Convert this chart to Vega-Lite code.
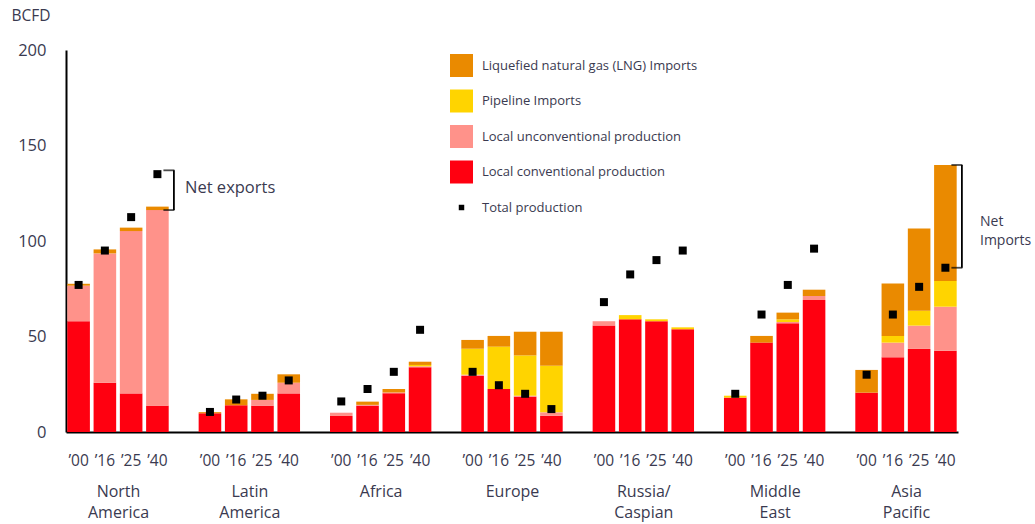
{
  "$schema": "https://vega.github.io/schema/vega-lite/v6.json",
  "autosize": {"type": "none"},
  "width": 892,
  "height": 382,
  "padding": {"left": 66, "top": 50, "right": 77, "bottom": 92},
  "config": {"font": "Open Sans", "view": {"stroke": null}},
  "datasets": {
    "bars": [
      {"region": "North America", "year": "’00", "type": "Local conventional production", "value": 58},
      {"region": "North America", "year": "’00", "type": "Local unconventional production", "value": 18.6},
      {"region": "North America", "year": "’00", "type": "Liquefied natural gas (LNG) Imports", "value": 1},
      {"region": "North America", "year": "’16", "type": "Local conventional production", "value": 25.8},
      {"region": "North America", "year": "’16", "type": "Local unconventional production", "value": 67.7},
      {"region": "North America", "year": "’16", "type": "Liquefied natural gas (LNG) Imports", "value": 2.1},
      {"region": "North America", "year": "’25", "type": "Local conventional production", "value": 20.2},
      {"region": "North America", "year": "’25", "type": "Local unconventional production", "value": 85},
      {"region": "North America", "year": "’25", "type": "Liquefied natural gas (LNG) Imports", "value": 1.8},
      {"region": "North America", "year": "’40", "type": "Local conventional production", "value": 13.8},
      {"region": "North America", "year": "’40", "type": "Local unconventional production", "value": 102.4},
      {"region": "North America", "year": "’40", "type": "Liquefied natural gas (LNG) Imports", "value": 1.8},
      {"region": "Latin America", "year": "’00", "type": "Local conventional production", "value": 9.8},
      {"region": "Latin America", "year": "’00", "type": "Liquefied natural gas (LNG) Imports", "value": 0.6},
      {"region": "Latin America", "year": "’16", "type": "Local conventional production", "value": 14},
      {"region": "Latin America", "year": "’16", "type": "Liquefied natural gas (LNG) Imports", "value": 3.1},
      {"region": "Latin America", "year": "’25", "type": "Local conventional production", "value": 13.8},
      {"region": "Latin America", "year": "’25", "type": "Local unconventional production", "value": 3},
      {"region": "Latin America", "year": "’25", "type": "Liquefied natural gas (LNG) Imports", "value": 3.2},
      {"region": "Latin America", "year": "’40", "type": "Local conventional production", "value": 20.2},
      {"region": "Latin America", "year": "’40", "type": "Local unconventional production", "value": 5.6},
      {"region": "Latin America", "year": "’40", "type": "Liquefied natural gas (LNG) Imports", "value": 4.4},
      {"region": "Africa", "year": "’00", "type": "Local conventional production", "value": 8.4},
      {"region": "Africa", "year": "’00", "type": "Local unconventional production", "value": 1.7},
      {"region": "Africa", "year": "’16", "type": "Local conventional production", "value": 13.8},
      {"region": "Africa", "year": "’16", "type": "Local unconventional production", "value": 0.4},
      {"region": "Africa", "year": "’16", "type": "Liquefied natural gas (LNG) Imports", "value": 1.7},
      {"region": "Africa", "year": "’25", "type": "Local conventional production", "value": 20.3},
      {"region": "Africa", "year": "’25", "type": "Local unconventional production", "value": 0.4},
      {"region": "Africa", "year": "’25", "type": "Liquefied natural gas (LNG) Imports", "value": 1.8},
      {"region": "Africa", "year": "’40", "type": "Local conventional production", "value": 33.9},
      {"region": "Africa", "year": "’40", "type": "Local unconventional production", "value": 0.5},
      {"region": "Africa", "year": "’40", "type": "Pipeline Imports", "value": 0.7},
      {"region": "Africa", "year": "’40", "type": "Liquefied natural gas (LNG) Imports", "value": 1.7},
      {"region": "Europe", "year": "’00", "type": "Local conventional production", "value": 29.5},
      {"region": "Europe", "year": "’00", "type": "Local unconventional production", "value": 0.5},
      {"region": "Europe", "year": "’00", "type": "Pipeline Imports", "value": 13.6},
      {"region": "Europe", "year": "’00", "type": "Liquefied natural gas (LNG) Imports", "value": 4.6},
      {"region": "Europe", "year": "’16", "type": "Local conventional production", "value": 22.5},
      {"region": "Europe", "year": "’16", "type": "Pipeline Imports", "value": 22.2},
      {"region": "Europe", "year": "’16", "type": "Liquefied natural gas (LNG) Imports", "value": 5.6},
      {"region": "Europe", "year": "’25", "type": "Local conventional production", "value": 18.5},
      {"region": "Europe", "year": "’25", "type": "Local unconventional production", "value": 0.5},
      {"region": "Europe", "year": "’25", "type": "Pipeline Imports", "value": 21.1},
      {"region": "Europe", "year": "’25", "type": "Liquefied natural gas (LNG) Imports", "value": 12.4},
      {"region": "Europe", "year": "’40", "type": "Local conventional production", "value": 8.5},
      {"region": "Europe", "year": "’40", "type": "Local unconventional production", "value": 1.8},
      {"region": "Europe", "year": "’40", "type": "Pipeline Imports", "value": 24.4},
      {"region": "Europe", "year": "’40", "type": "Liquefied natural gas (LNG) Imports", "value": 17.8},
      {"region": "Russia/Caspian", "year": "’00", "type": "Local conventional production", "value": 55.8},
      {"region": "Russia/Caspian", "year": "’00", "type": "Local unconventional production", "value": 2.2},
      {"region": "Russia/Caspian", "year": "’16", "type": "Local conventional production", "value": 59},
      {"region": "Russia/Caspian", "year": "’16", "type": "Pipeline Imports", "value": 2.2},
      {"region": "Russia/Caspian", "year": "’25", "type": "Local conventional production", "value": 58},
      {"region": "Russia/Caspian", "year": "’25", "type": "Pipeline Imports", "value": 1},
      {"region": "Russia/Caspian", "year": "’40", "type": "Local conventional production", "value": 53.8},
      {"region": "Russia/Caspian", "year": "’40", "type": "Pipeline Imports", "value": 1},
      {"region": "Middle East", "year": "’00", "type": "Local conventional production", "value": 18},
      {"region": "Middle East", "year": "’00", "type": "Pipeline Imports", "value": 1},
      {"region": "Middle East", "year": "’16", "type": "Local conventional production", "value": 46.8},
      {"region": "Middle East", "year": "’16", "type": "Liquefied natural gas (LNG) Imports", "value": 3.5},
      {"region": "Middle East", "year": "’25", "type": "Local conventional production", "value": 56.9},
      {"region": "Middle East", "year": "’25", "type": "Local unconventional production", "value": 0.7},
      {"region": "Middle East", "year": "’25", "type": "Pipeline Imports", "value": 1.4},
      {"region": "Middle East", "year": "’25", "type": "Liquefied natural gas (LNG) Imports", "value": 3.5},
      {"region": "Middle East", "year": "’40", "type": "Local conventional production", "value": 69.1},
      {"region": "Middle East", "year": "’40", "type": "Local unconventional production", "value": 2.1},
      {"region": "Middle East", "year": "’40", "type": "Liquefied natural gas (LNG) Imports", "value": 3.3},
      {"region": "Asia Pacific", "year": "’00", "type": "Local conventional production", "value": 20.6},
      {"region": "Asia Pacific", "year": "’00", "type": "Liquefied natural gas (LNG) Imports", "value": 11.9},
      {"region": "Asia Pacific", "year": "’16", "type": "Local conventional production", "value": 39.1},
      {"region": "Asia Pacific", "year": "’16", "type": "Local unconventional production", "value": 7.7},
      {"region": "Asia Pacific", "year": "’16", "type": "Pipeline Imports", "value": 3.5},
      {"region": "Asia Pacific", "year": "’16", "type": "Liquefied natural gas (LNG) Imports", "value": 27.5},
      {"region": "Asia Pacific", "year": "’25", "type": "Local conventional production", "value": 43.5},
      {"region": "Asia Pacific", "year": "’25", "type": "Local unconventional production", "value": 12.2},
      {"region": "Asia Pacific", "year": "’25", "type": "Pipeline Imports", "value": 7.8},
      {"region": "Asia Pacific", "year": "’25", "type": "Liquefied natural gas (LNG) Imports", "value": 43.1},
      {"region": "Asia Pacific", "year": "’40", "type": "Local conventional production", "value": 42.6},
      {"region": "Asia Pacific", "year": "’40", "type": "Local unconventional production", "value": 23},
      {"region": "Asia Pacific", "year": "’40", "type": "Pipeline Imports", "value": 13.5},
      {"region": "Asia Pacific", "year": "’40", "type": "Liquefied natural gas (LNG) Imports", "value": 60.7}
    ],
    "totals": [
      {"region": "North America", "year": "’00", "total": 77},
      {"region": "North America", "year": "’16", "total": 95},
      {"region": "North America", "year": "’25", "total": 112.5},
      {"region": "North America", "year": "’40", "total": 135},
      {"region": "Latin America", "year": "’00", "total": 10.5},
      {"region": "Latin America", "year": "’16", "total": 17},
      {"region": "Latin America", "year": "’25", "total": 19},
      {"region": "Latin America", "year": "’40", "total": 27},
      {"region": "Africa", "year": "’00", "total": 16},
      {"region": "Africa", "year": "’16", "total": 22.5},
      {"region": "Africa", "year": "’25", "total": 31.5},
      {"region": "Africa", "year": "’40", "total": 53.5},
      {"region": "Europe", "year": "’00", "total": 31.5},
      {"region": "Europe", "year": "’16", "total": 24.5},
      {"region": "Europe", "year": "’25", "total": 20},
      {"region": "Europe", "year": "’40", "total": 12},
      {"region": "Russia/Caspian", "year": "’00", "total": 68},
      {"region": "Russia/Caspian", "year": "’16", "total": 82.5},
      {"region": "Russia/Caspian", "year": "’25", "total": 90},
      {"region": "Russia/Caspian", "year": "’40", "total": 95},
      {"region": "Middle East", "year": "’00", "total": 20},
      {"region": "Middle East", "year": "’16", "total": 61.5},
      {"region": "Middle East", "year": "’25", "total": 77},
      {"region": "Middle East", "year": "’40", "total": 96},
      {"region": "Asia Pacific", "year": "’00", "total": 30},
      {"region": "Asia Pacific", "year": "’16", "total": 61.5},
      {"region": "Asia Pacific", "year": "’25", "total": 76},
      {"region": "Asia Pacific", "year": "’40", "total": 86}
    ],
    "brackets": [
      {"region": "North America", "year": "’40", "lo": 116.2, "hi": 137},
      {"region": "Asia Pacific", "year": "’40", "lo": 86, "hi": 139.8}
    ],
    "notes": [
      {"region": "North America", "note": "Net exports", "at": 127.7},
      {"region": "Asia Pacific", "note": "Net\nImports", "at": 110}
    ]
  },
  "layer": [
    {
      "layer": [
        {
          "data": {"name": "bars"},
          "transform": [
            {"calculate": "datum.region + '|' + datum.year", "as": "key"},
            {"calculate": "indexof(['Local conventional production','Local unconventional production','Pipeline Imports','Liquefied natural gas (LNG) Imports'], datum.type)", "as": "ord"}
          ],
          "mark": {"type": "bar"},
          "encoding": {
            "x": {
              "field": "key", "type": "nominal",
              "scale": {
                "domain": [
                  "North America|’00", "North America|’16", "North America|’25", "North America|’40", "gap1",
                  "Latin America|’00", "Latin America|’16", "Latin America|’25", "Latin America|’40", "gap2",
                  "Africa|’00", "Africa|’16", "Africa|’25", "Africa|’40", "gap3",
                  "Europe|’00", "Europe|’16", "Europe|’25", "Europe|’40", "gap4",
                  "Russia/Caspian|’00", "Russia/Caspian|’16", "Russia/Caspian|’25", "Russia/Caspian|’40", "gap5",
                  "Middle East|’00", "Middle East|’16", "Middle East|’25", "Middle East|’40", "gap6",
                  "Asia Pacific|’00", "Asia Pacific|’16", "Asia Pacific|’25", "Asia Pacific|’40"
                ],
                "paddingInner": 0.14, "paddingOuter": 0.05
              },
              "axis": {
                "title": null, "orient": "bottom", "ticks": false, "tickSize": 0,
                "domain": true, "domainColor": "#000000", "domainWidth": 2,
                "labelExpr": "indexof(datum.value, '|') > 0 ? split(datum.value, '|')[1] : ''",
                "labelAngle": 0, "labelPadding": 21, "labelFontSize": 15.5, "labelColor": "#3a3a50",
                "labelOverlap": false, "labelBound": false, "labelBaseline": "top"
              }
            },
            "y": {
              "field": "value", "type": "quantitative", "stack": "zero",
              "scale": {"domain": [0, 200], "nice": false},
              "axis": {
                "title": "BCFD", "titleAngle": 0, "titleX": -55, "titleY": -35,
                "titleAlign": "left", "titleBaseline": "middle", "titleFontWeight": "normal",
                "titleFontSize": 15.5, "titleColor": "#3a3a50",
                "values": [0, 50, 100, 150, 200], "grid": false, "ticks": false, "tickSize": 0,
                "domainColor": "#000000", "domainWidth": 2,
                "labelPadding": 20, "labelFontSize": 16.5, "labelColor": "#3a3a50"
              }
            },
            "color": {
              "field": "type", "type": "nominal",
              "scale": {
                "domain": ["Liquefied natural gas (LNG) Imports", "Pipeline Imports", "Local unconventional production", "Local conventional production", "Total production"],
                "range": ["#EA8A00", "#FFD400", "#FF928A", "#FF0010", "#000000"]
              },
              "legend": {
                "title": null, "orient": "none", "legendX": 384, "legendY": 4, "padding": 0,
                "symbolType": "square", "symbolSize": 529, "symbolStrokeWidth": 0,
                "rowPadding": 12.5, "labelOffset": 9, "labelFontSize": 13, "labelColor": "#3a3a50",
                "labelLimit": 400,
                "encode": {"symbols": {"update": {"size": {"signal": "datum.value === 'Total production' ? 30 : 529"}}}}
              }
            },
            "order": {"field": "ord", "type": "quantitative"}
          }
        },
        {
          "data": {"name": "totals"},
          "transform": [{"calculate": "datum.region + '|' + datum.year", "as": "key"}],
          "mark": {"type": "point", "shape": "square", "filled": true, "size": 64, "opacity": 1},
          "encoding": {
            "x": {"field": "key", "type": "nominal"},
            "y": {"field": "total", "type": "quantitative"},
            "color": {"datum": "Total production"}
          }
        },
        {
          "data": {"name": "brackets"},
          "transform": [{"calculate": "datum.region + '|' + datum.year", "as": "key"}],
          "layer": [
            {
              "mark": {"type": "rule", "xOffset": 16.5, "color": "#000000", "strokeWidth": 1.8},
              "encoding": {
                "x": {"field": "key", "type": "nominal"},
                "y": {"field": "lo", "type": "quantitative"},
                "y2": {"field": "hi"}
              }
            },
            {
              "mark": {"type": "tick", "xOffset": 11.5, "size": 11, "thickness": 1.8, "color": "#000000"},
              "encoding": {
                "x": {"field": "key", "type": "nominal"},
                "y": {"field": "lo", "type": "quantitative"}
              }
            },
            {
              "mark": {"type": "tick", "xOffset": 11.5, "size": 11, "thickness": 1.8, "color": "#000000"},
              "encoding": {
                "x": {"field": "key", "type": "nominal"},
                "y": {"field": "hi", "type": "quantitative"}
              }
            }
          ]
        }
      ]
    },
    {
      "data": {"name": "notes"},
      "layer": [
        {
          "transform": [{"filter": "datum.region === 'North America'"}],
          "mark": {"type": "text", "align": "left", "baseline": "middle", "dx": 67, "fontSize": 16.5, "color": "#3a3a50"},
          "encoding": {
            "x": {
              "field": "region", "type": "nominal",
              "scale": {"type": "point", "domain": ["North America", "Latin America", "Africa", "Europe", "Russia/Caspian", "Middle East", "Asia Pacific"], "padding": 0.396},
              "axis": {
                "title": null, "orient": "bottom", "domain": false, "ticks": false, "tickSize": 0,
                "labelPadding": 51, "labelFontSize": 16, "labelLineHeight": 21, "labelColor": "#3a3a50",
                "labelAngle": 0, "labelOverlap": false, "labelBound": false, "labelBaseline": "top",
                "labelExpr": "datum.value === 'Russia/Caspian' ? ['Russia/', 'Caspian'] : split(datum.value, ' ')"
              }
            },
            "y": {"field": "at", "type": "quantitative"},
            "text": {"field": "note"}
          }
        },
        {
          "transform": [{"filter": "datum.region === 'Asia Pacific'"}],
          "mark": {"type": "text", "align": "left", "baseline": "middle", "dx": 74, "fontSize": 14, "lineHeight": 19, "lineBreak": "\n", "color": "#3a3a50"},
          "encoding": {
            "x": {"field": "region", "type": "nominal"},
            "y": {"field": "at", "type": "quantitative"},
            "text": {"field": "note"}
          }
        }
      ]
    }
  ],
  "resolve": {"scale": {"x": "independent"}}
}
